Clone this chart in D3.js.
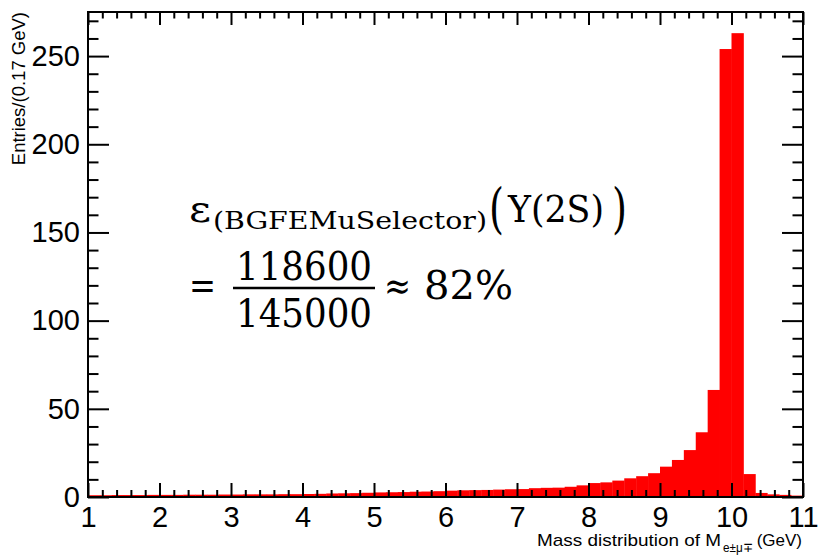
<!DOCTYPE html>
<html>
<head>
<meta charset="utf-8">
<script src="https://cdn.jsdelivr.net/npm/d3@7"></script>
<style>
  body { margin: 0; background: #fff; }
  svg { display: block; }
</style>
</head>
<body>
<script>
  // histogram binning
  const nBins = 60
  const xMin = 1
  const xMax = 11
  // entries per bin
  const counts = [
    1.0, 1.0, 1.1, 1.1, 1.1, 1.2, 1.2, 1.2, 1.3, 1.3,
    1.3, 1.4, 1.4, 1.5, 1.5, 1.5, 1.6, 1.6, 1.7, 1.8,
    2.0, 2.1, 2.2, 2.4, 2.6, 2.7, 2.8, 3.0, 3.1, 3.3,
    3.6, 3.8, 3.9, 4.0, 4.2, 4.4, 4.5, 5.0, 5.2, 5.3,
    5.8, 6.6, 7.9, 8.3, 9.3, 10.6, 11.8, 13.5, 17.2, 21,
    26.6, 36.7, 60.7, 254, 263, 13, 2.3, 1.5, 1.2, 0.8
  ]
  const xTicks = [1, 2, 3, 4, 5, 6, 7, 8, 9, 10, 11]
  const yTicks = [0, 50, 100, 150, 200, 250]
  const yMax = 275

  const W = 820, H = 555
  const frame = {left: 88, right: 803, top: 12, bottom: 497}

  const x = d3.scaleLinear().domain([xMin, xMax]).range([frame.left, frame.right])
  const y = d3.scaleLinear().domain([0, yMax]).range([frame.bottom, frame.top])
  const binW = (xMax - xMin) / nBins

  const svg = d3.select('body').append('svg')
    .attr('width', W)
    .attr('height', H)

  // bars
  svg.append('g')
    .selectAll('rect')
    .data(counts)
    .enter().append('rect')
    .attr('x', (d, i) => x(xMin + i * binW))
    .attr('width', (d, i) => x(xMin + (i + 1) * binW) - x(xMin + i * binW) + 0.4)
    .attr('y', d => y(d))
    .attr('height', d => y(0) - y(d))
    .style('fill', '#ff0000')

  // minor tick values
  const xMinor = d3.range(xMin, xMax + 1e-9, 0.2).filter(v => Math.abs(v - Math.round(v)) > 1e-6)
  const yMinor = d3.range(0, yMax + 1e-9, 10).filter(v => v % 50 !== 0)

  const sans = '"Liberation Sans", Arial, Helvetica, sans-serif'

  function styleAxis(g) {
    g.select('.domain').remove()
    g.selectAll('line').style('stroke', '#000').style('stroke-width', 2)
    g.selectAll('text')
      .style('font-family', sans)
      .style('font-size', '29px')
      .style('fill', '#000')
  }

  // bottom
  svg.append('g')
    .attr('transform', `translate(0, ${frame.bottom})`)
    .call(d3.axisBottom(x).tickValues(xTicks).tickSize(-14).tickPadding(9).tickFormat(d3.format('d')))
    .call(styleAxis)
  svg.append('g')
    .attr('transform', `translate(0, ${frame.bottom})`)
    .call(d3.axisBottom(x).tickValues(xMinor).tickSize(-7).tickFormat(''))
    .call(styleAxis)
  // top
  svg.append('g')
    .attr('transform', `translate(0, ${frame.top})`)
    .call(d3.axisTop(x).tickValues(xTicks).tickSize(-13).tickFormat(''))
    .call(styleAxis)
  svg.append('g')
    .attr('transform', `translate(0, ${frame.top})`)
    .call(d3.axisTop(x).tickValues(xMinor).tickSize(-6.5).tickFormat(''))
    .call(styleAxis)
  // left
  svg.append('g')
    .attr('transform', `translate(${frame.left}, 0)`)
    .call(d3.axisLeft(y).tickValues(yTicks).tickSize(-21).tickPadding(8))
    .call(styleAxis)
  svg.append('g')
    .attr('transform', `translate(${frame.left}, 0)`)
    .call(d3.axisLeft(y).tickValues(yMinor).tickSize(-10.5).tickFormat(''))
    .call(styleAxis)
  // right
  svg.append('g')
    .attr('transform', `translate(${frame.right}, 0)`)
    .call(d3.axisRight(y).tickValues(yTicks).tickSize(-21).tickFormat(''))
    .call(styleAxis)
  svg.append('g')
    .attr('transform', `translate(${frame.right}, 0)`)
    .call(d3.axisRight(y).tickValues(yMinor).tickSize(-10.5).tickFormat(''))
    .call(styleAxis)

  // frame
  svg.append('rect')
    .attr('x', frame.left)
    .attr('y', frame.top)
    .attr('width', frame.right - frame.left)
    .attr('height', frame.bottom - frame.top)
    .style('fill', 'none')
    .style('stroke', '#000')
    .style('stroke-width', 2)

  // axis titles
  const xt = svg.append('g').style('font-family', sans).style('fill', '#000')
  xt.append('text').attr('x', 537).attr('y', 546)
    .style('font-size', '17px')
    .attr('textLength', 184).attr('lengthAdjust', 'spacingAndGlyphs')
    .text('Mass distribution of M')
  xt.append('text').attr('x', 723).attr('y', 552)
    .style('font-size', '12.5px')
    .attr('textLength', 30).attr('lengthAdjust', 'spacingAndGlyphs')
    .text('e±μ∓')
  xt.append('text').attr('x', 802).attr('y', 546).attr('text-anchor', 'end')
    .style('font-size', '17px').text('(GeV)')

  svg.append('text')
    .attr('transform', 'translate(25, 12) rotate(-90)')
    .attr('text-anchor', 'end')
    .style('font-family', sans)
    .style('font-size', '18.5px')
    .text('Entries/(0.17 GeV)')

  // efficiency formula
  const serif = '"DejaVu Serif", "Liberation Serif", serif'
  const f = svg.append('g').style('font-family', serif).style('fill', '#000')
  function put(txt, px, py, size, len, anchor) {
    const t = f.append('text').attr('x', px).attr('y', py)
      .style('font-size', size + 'px')
      .attr('text-anchor', anchor || 'start')
      .text(txt)
    if (len) t.attr('textLength', len).attr('lengthAdjust', 'spacingAndGlyphs')
    return t
  }
  put('ε', 189, 222, 38, 22)
  put('(BGFEMuSelector)', 213, 229, 24, 274)
  put('(', 489, 227, 54, 15)
  put('Υ(2S)', 508, 222, 38, 96)
  put(')', 612, 227, 54, 15)

  put('=', 189, 299, 40, 27)
  put('118600', 304, 280, 40, 136, 'middle')
  f.append('line').attr('x1', 233).attr('x2', 375).attr('y1', 288).attr('y2', 288)
    .style('stroke', '#000').style('stroke-width', 2.5)
  put('145000', 304, 327, 40, 136, 'middle')
  put('≈', 384, 299, 38, 27)
  put('82%', 424, 299, 40, 89)
</script>
</body>
</html>
